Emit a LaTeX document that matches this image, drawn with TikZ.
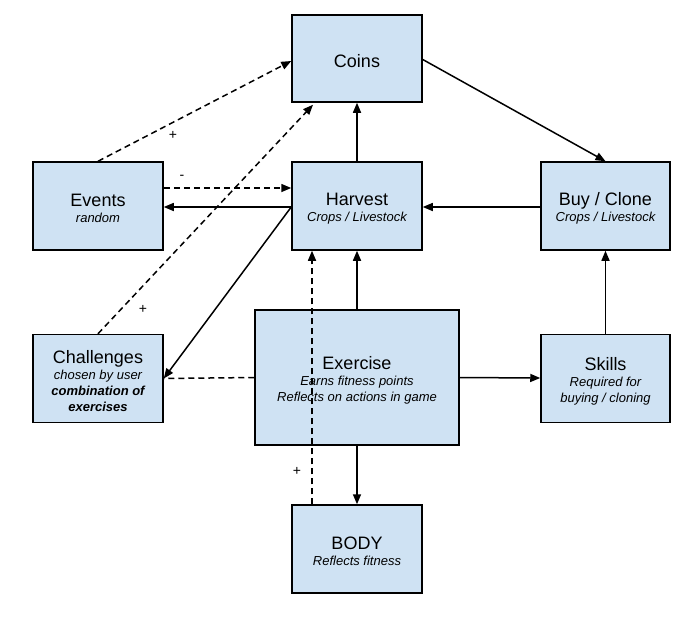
\documentclass[tikz,border=0pt]{standalone}
\usepackage{fontspec}
\setmainfont{Liberation Sans}
\usetikzlibrary{arrows.meta}
\definecolor{boxfill}{HTML}{CFE2F3}
\newcommand{\subtxt}{\itshape}
\newcommand{\ttltxt}{\fontsize{18}{16}\selectfont\rule{0pt}{18pt}}
\begin{document}
\begin{tikzpicture}[x=1pt,y=-1pt,
  box/.style={draw=black, fill=boxfill, line width=1.5pt, minimum width=130pt, minimum height=88pt, align=center, inner sep=0pt, font=\fontsize{13}{16}\selectfont},
  arr/.style={line width=1.5pt, -{Triangle[length=10pt,width=8pt]}},
  darr/.style={arr, dash pattern=on 6pt off 4pt},
  dline/.style={line width=1.5pt, dash pattern=on 6pt off 4pt},
  sign/.style={font=\fontsize{14}{14}\selectfont, inner sep=0pt}]
\useasboundingbox (0,0) rectangle (699,625);

\node[box] (coins) at (357,58.5) [minimum height=87pt] {\ttltxt Coins};
\node[box] (harvest) at (357,206) {{\ttltxt Harvest}\\{\subtxt Crops / Livestock}};
\node[box] (events) at (98,206) {{\ttltxt Events}\\{\subtxt random}};
\node[box, minimum width=129pt] (buy) at (605.5,206) {{\ttltxt Buy / Clone}\\{\subtxt Crops / Livestock}};
\node[box] (challenges) at (98,378.5) {{\ttltxt Challenges}\\{\subtxt chosen by user}\\{\subtxt\bfseries combination of}\\{\subtxt\bfseries exercises}};
\node[box, minimum width=204pt, minimum height=135pt] (exercise) at (357,377.5) {{\ttltxt Exercise}\\{\subtxt Earns fitness points}\\{\subtxt Reflects on actions in game}};
\node[box, minimum width=129pt] (skills) at (605.5,378.5) {{\ttltxt Skills}\\{\subtxt Required for}\\{\subtxt buying / cloning}};
\node[box] (body) at (357,549) {{\ttltxt BODY}\\{\subtxt Reflects fitness}};

% solid connectors
\draw[arr] (harvest.north) -- (coins.south);
\draw[arr] ([yshift=-1pt]coins.east) -- (buy.north);
\draw[arr] ([yshift=-1pt]buy.west) -- ([yshift=-1pt]harvest.east);
\draw[arr] (skills.north) -- (buy.south);
\draw[arr] (exercise.east) -- ([yshift=0.5pt]skills.west);
\draw[arr] (exercise.north) -- (harvest.south);
\draw[arr] (exercise.south) -- (body.north);
\draw[arr] ([yshift=-1pt]harvest.west) -- ([yshift=-1pt]events.east);
\draw[arr] ([yshift=-1pt]harvest.west) -- (challenges.east);

% dashed connectors
\draw[darr] ([yshift=18pt]events.east) -- ([yshift=18pt]harvest.west);
\draw[dline] (exercise.west) -- (challenges.east);
\draw[darr] (events.north) -- ([yshift=-2.5pt]coins.west);
\draw[darr] (challenges.north) -- ([xshift=-44pt,yshift=-2pt]coins.south);
\draw[darr] ([xshift=-45pt]body.north) -- ([xshift=-45pt]harvest.south);

% signs
\node[sign] (s1) at (182,177) {-};
\node[sign] (s2) at (173,135) {+};
\node[sign] (s3) at (143,309) {+};
\node[sign] (s4) at (297,471) {+};
\end{tikzpicture}
\end{document}
